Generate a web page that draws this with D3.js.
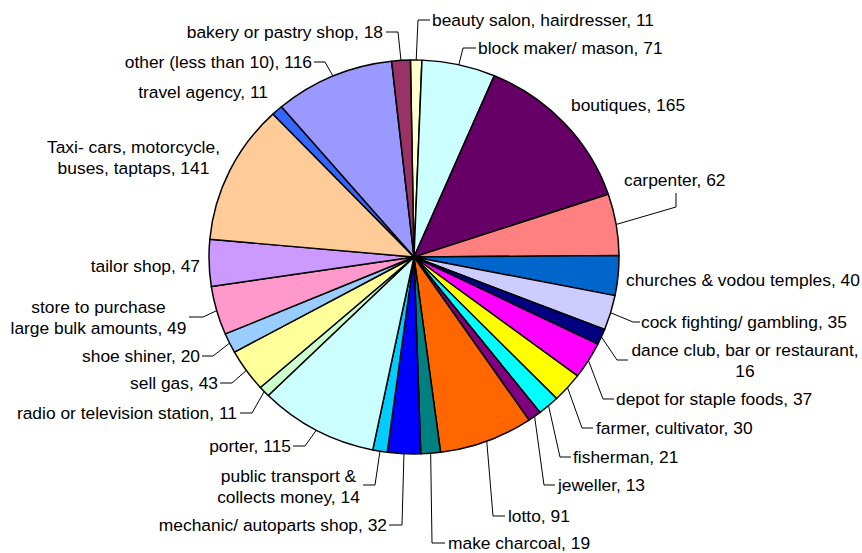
<!DOCTYPE html>
<html>
<head>
<meta charset="utf-8">
<script src="https://cdn.jsdelivr.net/npm/d3@7/dist/d3.min.js"></script>
<style>
  html, body { margin: 0; padding: 0; background: #fff; }
  svg { display: block; }
  text { font-family: "Liberation Sans", Arial, sans-serif; font-size: 17.4px; fill: #000; }
</style>
</head>
<body>
<svg id="chart" width="862" height="553"></svg>
<script>
// Businesses by type, clockwise from 12 o'clock
const categories = [
  "beauty salon, hairdresser", "block maker/ mason", "boutiques", "carpenter",
  "churches & vodou temples", "cock fighting/ gambling", "dance club, bar or restaurant",
  "depot for staple foods", "farmer, cultivator", "fisherman", "jeweller", "lotto",
  "make charcoal", "mechanic/ autoparts shop", "public transport & collects money",
  "porter", "radio or television station", "sell gas", "shoe shiner",
  "store to purchase large bulk amounts", "tailor shop", "Taxi- cars, motorcycle, buses, taptaps",
  "travel agency", "other (less than 10)", "bakery or pastry shop"
];
const values = [11, 71, 165, 62, 40, 35, 16, 37, 30, 21, 13, 91, 19, 32, 14, 115, 11, 43, 20, 49, 47, 141, 11, 116, 18];
const colors = [
  "#FFFFCC", "#CCFFFF", "#660066", "#FF8080", "#0066CC", "#CCCCFF", "#000080",
  "#FF00FF", "#FFFF00", "#00FFFF", "#800080", "#FF6600", "#008080", "#0000FF",
  "#00CCFF", "#CCFFFF", "#CCFFCC", "#FFFF99", "#99CCFF", "#FF99CC", "#CC99FF",
  "#FFCC99", "#3366FF", "#9999FF", "#993366"
];

// Label placement: text anchor point, optional line break, leader elbow and attach point
const labelLayout = [
  { x: 432, y: 20, anchor: "start", elbow: [418, 20], attach: [430, 20] },
  { x: 478, y: 48, anchor: "start", elbow: [463, 48], attach: [476, 48] },
  { x: 571, y: 105, anchor: "start" },
  { x: 624, y: 180, anchor: "start", elbow: [676, 207], attach: [676, 193] },
  { x: 626, y: 280, anchor: "start" },
  { x: 641, y: 322, anchor: "start", elbow: [633, 322], attach: [640, 322] },
  { x: 745, y: 350, anchor: "middle", breakAfter: "restaurant,", elbow: [617, 360], attach: [628, 360] },
  { x: 616, y: 399, anchor: "start", elbow: [603, 399], attach: [614, 399] },
  { x: 596, y: 428, anchor: "start", elbow: [582, 428], attach: [593, 428] },
  { x: 573, y: 457, anchor: "start", elbow: [560, 457], attach: [571, 457] },
  { x: 558, y: 485, anchor: "start", elbow: [544, 485], attach: [555, 485] },
  { x: 508, y: 516, anchor: "start", elbow: [493, 516], attach: [505, 516] },
  { x: 448, y: 543, anchor: "start", elbow: [432, 543], attach: [445, 543] },
  { x: 387, y: 525, anchor: "end", elbow: [402, 525], attach: [389, 525] },
  { x: 288.5, y: 476, anchor: "middle", breakAfter: "&", elbow: [375, 485], attach: [363, 485] },
  { x: 291, y: 446, anchor: "end", elbow: [305, 446], attach: [293, 446] },
  { x: 237, y: 413, anchor: "end", elbow: [252, 413], attach: [240, 413] },
  { x: 218, y: 383, anchor: "end", elbow: [232, 383], attach: [220, 383] },
  { x: 200, y: 356, anchor: "end", elbow: [213, 356], attach: [202, 356] },
  { x: 98.5, y: 307, anchor: "middle", breakAfter: "purchase", elbow: [203, 317], attach: [189, 317] },
  { x: 200, y: 266, anchor: "end" },
  { x: 133.5, y: 147, anchor: "middle", breakAfter: "motorcycle," },
  { x: 268, y: 92, anchor: "end" },
  { x: 312, y: 62, anchor: "end", elbow: [325, 62], attach: [314, 62] },
  { x: 383, y: 32, anchor: "end", elbow: [398, 32], attach: [386, 32] }
];

const cx = 414, cy = 257, rx = 205, ry = 197;
const lineHeight = 20.5;
const startAngle = -Math.PI / 180; // first slice begins just left of 12 o'clock

const data = categories.map((c, i) => ({ category: c, value: values[i], color: colors[i], layout: labelLayout[i] }));

const pie = d3.pie()
  .value(d => d.value)
  .sort(null)
  .startAngle(startAngle)
  .endAngle(startAngle + 2 * Math.PI);

const arcs = pie(data);
const arc = d3.arc().innerRadius(0).outerRadius(rx);

const svg = d3.select("#chart");

// Slices, drawn on a circle and flattened slightly into an ellipse
const pieGroup = svg.append("g")
  .attr("transform", `translate(${cx},${cy}) scale(1,${ry / rx})`);

pieGroup.selectAll("path")
  .data(arcs)
  .join("path")
  .attr("d", arc)
  .attr("fill", d => d.data.color)
  .attr("stroke", "#000")
  .attr("stroke-width", 1.5)
  .attr("stroke-linejoin", "round");

// Leader lines from each slice edge to its label
function edgePoint(d) {
  const a = (d.startAngle + d.endAngle) / 2;
  return [cx + rx * Math.sin(a), cy - ry * Math.cos(a)];
}

svg.append("g")
  .selectAll("path")
  .data(arcs.filter(d => d.data.layout.elbow))
  .join("path")
  .attr("d", d => d3.line()([edgePoint(d), d.data.layout.elbow, d.data.layout.attach]))
  .attr("fill", "none")
  .attr("stroke", "#000")
  .attr("stroke-width", 1);

// Category labels with their counts
const labels = svg.append("g")
  .selectAll("text")
  .data(arcs)
  .join("text")
  .attr("text-anchor", d => d.data.layout.anchor)
  .attr("x", d => d.data.layout.x)
  .attr("y", d => d.data.layout.y);

labels.each(function (d) {
  const full = `${d.data.category}, ${d.data.value}`;
  const lay = d.data.layout;
  let lines = [full];
  if (lay.breakAfter) {
    const k = full.indexOf(lay.breakAfter) + lay.breakAfter.length;
    lines = [full.slice(0, k).trim(), full.slice(k).trim()];
  }
  d3.select(this).selectAll("tspan")
    .data(lines)
    .join("tspan")
    .attr("x", lay.x)
    .attr("y", (l, i) => lay.y + i * lineHeight)
    .attr("dy", "0.35em")
    .text(l => l);
});
</script>
</body>
</html>
